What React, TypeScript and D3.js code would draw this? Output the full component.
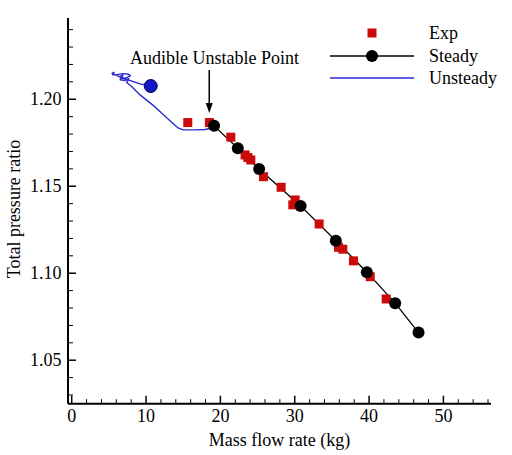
import React from "react";
import * as d3 from "d3";

const steadyX = [19.15, 22.34, 25.21, 30.79, 35.53, 39.7, 43.51, 46.65];
const steadyY = [1.1847, 1.1718, 1.1599, 1.1387, 1.1187, 1.1006, 1.0828, 1.0659];

const expX = [15.61, 18.52, 21.4, 23.32, 24.09, 23.7, 25.79, 28.17, 30.05, 29.74, 33.28, 35.88, 36.47, 37.9, 40.15, 42.3];
const expY = [1.1866, 1.1866, 1.1782, 1.168, 1.1651, 1.1665, 1.1555, 1.1494, 1.1421, 1.1393, 1.1283, 1.1149, 1.1138, 1.1071, 1.098, 1.0852];

const unsteadyX = [10.63, 9.19, 7.58, 6.5, 5.8, 5.42, 5.7, 5.5, 6.2, 6.9, 7.6, 7.9, 7.4, 6.8, 6.4, 6.9, 6.5, 7.2, 7.7, 7.4, 8.1, 9.19, 11.21, 12.96, 14.31, 14.98, 16.59, 17.93, 18.88];
const unsteadyY = [1.2076, 1.2088, 1.2111, 1.2128, 1.2142, 1.2149, 1.2155, 1.2141, 1.2143, 1.2147, 1.2144, 1.2136, 1.2124, 1.212, 1.213, 1.2138, 1.2112, 1.2108, 1.2118, 1.2096, 1.2072, 1.2025, 1.1956, 1.1887, 1.1835, 1.1824, 1.1824, 1.1826, 1.1835];

const unsteadyStartX = [10.63];
const unsteadyStartY = [1.2076];

const xMajorTicks = [0, 10, 20, 30, 40, 50];
const xMinorTicks = [2, 4, 6, 8, 12, 14, 16, 18, 22, 24, 26, 28, 32, 34, 36, 38, 42, 44, 46, 48, 52, 54, 56];
const yMajorTicks = [1.05, 1.1, 1.15, 1.2];
const yMinorTicks = [1.03, 1.04, 1.06, 1.07, 1.08, 1.09, 1.11, 1.12, 1.13, 1.14, 1.16, 1.17, 1.18, 1.19, 1.21, 1.22, 1.23, 1.24];

const annotationText = "Audible Unstable Point";
const annotationTextX = 7.85;
const annotationTextY = 1.2205;
const arrowX = 18.5;
const arrowFromY = 1.2168;
const arrowToY = 1.1921;

const legendLabels = ["Exp", "Steady", "Unsteady"];

const xLabel = "Mass flow rate (kg)";
const yLabel = "Total pressure ratio";

const FONT = "Liberation Serif, DejaVu Serif, Times New Roman, serif";
const RED = "#cc0a0a";
const BLUE = "#2a2ad2";

export default function App() {
  const W = 512, H = 455;
  const x = d3.scaleLinear().domain([-0.5, 56.4]).range([68, 491]);
  const y = d3.scaleLinear().domain([1.025, 1.2467]).range([403.7, 18]);

  const steadyLine = d3.line<number>().x((_, i) => x(steadyX[i])).y((_, i) => y(steadyY[i]))(steadyX)!;
  const unsteadyLine = d3.line<number>().x((_, i) => x(unsteadyX[i])).y((_, i) => y(unsteadyY[i]))(unsteadyX)!;

  const ax = x(arrowX), ay0 = y(arrowFromY), ay1 = y(arrowToY);
  const legX0 = 330, legX1 = 414, legMid = 372, legText = 429;
  const legY = [33, 56, 78];
  const txt = { fontFamily: FONT, fontSize: 18 } as React.CSSProperties;

  return (
    <svg width={W} height={H} style={{ position: "absolute", left: 0, top: 0, background: "#fff" }}>
      {/* axes */}
      <line x1={x.range()[0]} x2={x.range()[0]} y1={y.range()[1]} y2={y.range()[0]} stroke="#000" strokeWidth={2} />
      <line x1={x.range()[0]} x2={x.range()[1]} y1={y.range()[0]} y2={y.range()[0]} stroke="#000" strokeWidth={2} />
      {xMajorTicks.map((t) => (
        <g key={"xm" + t}>
          <line x1={x(t)} x2={x(t)} y1={y.range()[0]} y2={y.range()[0] - 8} stroke="#000" strokeWidth={1.5} />
          <text x={x(t)} y={421.5} textAnchor="middle" style={txt}>{t}</text>
        </g>
      ))}
      {xMinorTicks.map((t) => (
        <line key={"xn" + t} x1={x(t)} x2={x(t)} y1={y.range()[0]} y2={y.range()[0] - 4.5} stroke="#000" strokeWidth={1} />
      ))}
      {yMajorTicks.map((t) => (
        <g key={"ym" + t}>
          <line x1={x.range()[0]} x2={x.range()[0] + 8} y1={y(t)} y2={y(t)} stroke="#000" strokeWidth={1.5} />
          <text x={61.5} y={y(t) + 6} textAnchor="end" style={txt}>{t.toFixed(2)}</text>
        </g>
      ))}
      {yMinorTicks.map((t) => (
        <line key={"yn" + t} x1={x.range()[0]} x2={x.range()[0] + 5} y1={y(t)} y2={y(t)} stroke="#000" strokeWidth={1} />
      ))}
      <text x={(x.range()[0] + x.range()[1]) / 2} y={446} textAnchor="middle" style={txt}>{xLabel}</text>
      <text transform={`translate(20,209) rotate(-90)`} textAnchor="middle" style={txt}>{yLabel}</text>

      {/* unsteady */}
      <path d={unsteadyLine} fill="none" stroke={BLUE} strokeWidth={1.4} strokeLinejoin="round" />
      {unsteadyStartX.map((v, i) => (
        <circle key={"us" + i} cx={x(v)} cy={y(unsteadyStartY[i])} r={6.5} fill="#1414c8" stroke="#000050" strokeWidth={1} />
      ))}

      {/* steady line */}
      <path d={steadyLine} fill="none" stroke="#000" strokeWidth={1.3} />

      {/* exp squares */}
      {expX.map((v, i) => (
        <rect key={"e" + i} x={x(v) - 4.5} y={y(expY[i]) - 4.5} width={9} height={9} fill={RED} />
      ))}

      {/* steady circles */}
      {steadyX.map((v, i) => (
        <circle key={"s" + i} cx={x(v)} cy={y(steadyY[i])} r={6} fill="#000" />
      ))}

      {/* annotation */}
      <text x={x(annotationTextX)} y={y(annotationTextY)} style={txt}>{annotationText}</text>
      <line x1={ax} x2={ax} y1={ay0} y2={ay1 - 9} stroke="#000" strokeWidth={1.5} />
      <path d={`M${ax - 3.5},${ay1 - 10} L${ax + 3.5},${ay1 - 10} L${ax},${ay1} Z`} fill="#000" />

      {/* legend */}
      <rect x={legMid - 4.5} y={legY[0] - 4.5} width={9} height={9} fill={RED} />
      <text x={legText} y={legY[0] + 6} style={txt}>{legendLabels[0]}</text>
      <line x1={legX0} x2={legX1} y1={legY[1]} y2={legY[1]} stroke="#000" strokeWidth={1.5} />
      <circle cx={legMid} cy={legY[1]} r={6} fill="#000" />
      <text x={legText} y={legY[1] + 6} style={txt}>{legendLabels[1]}</text>
      <line x1={legX0} x2={legX1} y1={legY[2]} y2={legY[2]} stroke={BLUE} strokeWidth={1.5} />
      <text x={legText} y={legY[2] + 6} style={txt}>{legendLabels[2]}</text>
    </svg>
  );
}
